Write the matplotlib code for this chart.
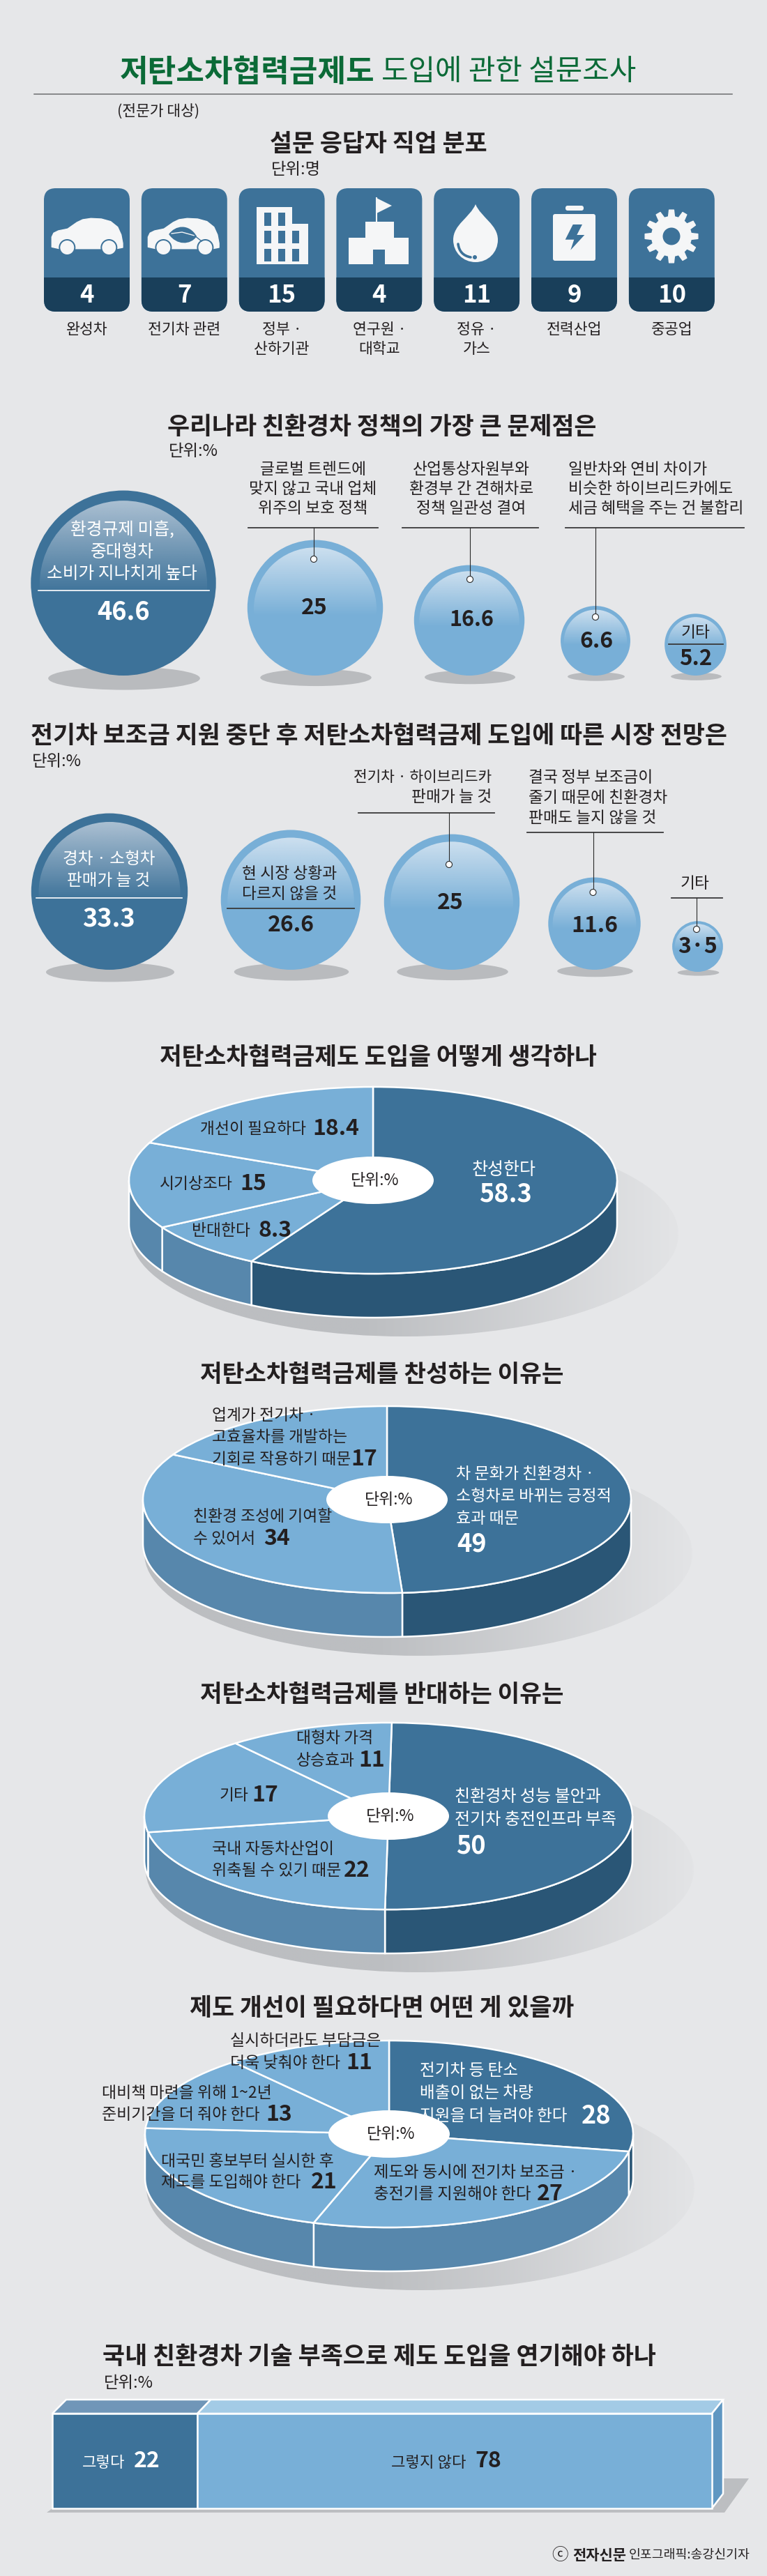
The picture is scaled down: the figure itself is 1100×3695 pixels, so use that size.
import numpy as np
import matplotlib
matplotlib.use('Agg')
import matplotlib.pyplot as plt
from matplotlib.patches import Circle, Ellipse, FancyBboxPatch, PathPatch, Polygon, Rectangle, Wedge
from matplotlib.path import Path
from matplotlib.transforms import Affine2D

plt.rcParams['font.family'] = ['Noto Sans CJK KR', 'DejaVu Sans']

# survey data
main_title = '저탄소차협력금제도'
main_subtitle = '도입에 관한 설문조사'
target_note = '(전문가 대상)'
section_titles = [
    '설문 응답자 직업 분포',
    '우리나라 친환경차 정책의 가장 큰 문제점은',
    '전기차 보조금 지원 중단 후 저탄소차협력금제 도입에 따른 시장 전망은',
    '저탄소차협력금제도 도입을 어떻게 생각하나',
    '저탄소차협력금제를 찬성하는 이유는',
    '저탄소차협력금제를 반대하는 이유는',
    '제도 개선이 필요하다면 어떤 게 있을까',
    '국내 친환경차 기술 부족으로 제도 도입을 연기해야 하나',
]

job_labels = ['완성차', '전기차 관련', '정부 ·\n산하기관', '연구원 ·\n대학교', '정유 ·\n가스', '전력산업', '중공업']
job_counts = [4, 7, 15, 4, 11, 9, 10]

problem_labels = ['환경규제 미흡,\n중대형차\n소비가 지나치게 높다',
                  '글로벌 트렌드에\n맞지 않고 국내 업체\n위주의 보호 정책',
                  '산업통상자원부와\n환경부 간 견해차로\n정책 일관성 결여',
                  '일반차와 연비 차이가\n비슷한 하이브리드카에도\n세금 혜택을 주는 건 불합리',
                  '기타']
problem_values = [46.6, 25, 16.6, 6.6, 5.2]

outlook_labels = ['경차 · 소형차\n판매가 늘 것',
                  '현 시장 상황과\n다르지 않을 것',
                  '전기차 · 하이브리드카\n판매가 늘 것',
                  '결국 정부 보조금이\n줄기 때문에 친환경차\n판매도 늘지 않을 것',
                  '기타']
outlook_values = [33.3, 26.6, 25, 11.6, 3.5]
outlook_shown = ['33.3', '26.6', '25', '11.6', '3·5']

opinion_labels = ['찬성한다', '반대한다', '시기상조다', '개선이 필요하다']
opinion_values = [58.3, 8.3, 15, 18.4]

favor_labels = ['차 문화가 친환경차 ·\n소형차로 바뀌는 긍정적\n효과 때문', '친환경 조성에 기여할\n수 있어서',
                '업계가 전기차 ·\n고효율차를 개발하는\n기회로 작용하기 때문']
favor_values = [49, 34, 17]

oppose_labels = ['친환경차 성능 불안과\n전기차 충전인프라 부족', '국내 자동차산업이\n위축될 수 있기 때문', '기타',
                 '대형차 가격\n상승효과']
oppose_values = [50, 22, 17, 11]

improve_labels = ['전기차 등 탄소\n배출이 없는 차량\n지원을 더 늘려야 한다',
                  '제도와 동시에 전기차 보조금 ·\n충전기를 지원해야 한다',
                  '대국민 홍보부터 실시한 후\n제도를 도입해야 한다',
                  '대비책 마련을 위해 1~2년\n준비기간을 더 줘야 한다',
                  '실시하더라도 부담금은\n더욱 낮춰야 한다']
improve_values = [28, 27, 21, 13, 11]

delay_labels = ['그렇다', '그렇지 않다']
delay_values = [22, 78]

credit_brand = '전자신문'
credit_rest = '인포그래픽:송강신기자'

BG = '#e6e7e9'
INK = '#231f20'
DARK = '#3d7299'
NAVY = '#193f5a'
LIGHT = '#78afd7'
DARK_SIDE = '#2a5676'
LIGHT_SIDE = '#5787ac'
ICON = '#f5f6f7'
GREEN = '#0b6a37'

fig = plt.figure(figsize=(11, 36.95), dpi=100, facecolor=BG)
ax = fig.add_axes([0, 0, 1, 1])
ax.set_axis_off()
renderer = fig.canvas.get_renderer()


def fit(s, x0, x1, y, color=INK, weight='bold'):
    t = ax.text(x0, y, s, color=color, weight=weight, fontsize=20, ha='left', va='center', zorder=10)
    w = t.get_window_extent(renderer).width
    t.set_fontsize(20 * (x1 - x0) / w)
    return t


def lines(s, x, y, pitch, size=16.4, color=INK, ha='center', weight='normal'):
    for i, part in enumerate(s.split('\n')):
        ax.text(x, y + i * pitch, part, fontsize=size, color=color, ha=ha, va='center', weight=weight, zorder=10)


def num(s, x, y, size=23, color=INK, ha='center'):
    ax.text(x, y, s, fontsize=size, color=color, ha=ha, va='center', weight='bold', zorder=10)


def gradient(x0, x1, y0, y1, rgba, clip, zorder):
    im = ax.imshow(rgba, extent=(x0, x1, y1, y0), aspect='auto', interpolation='bilinear', zorder=zorder)
    im.set_clip_path(clip)


def ball(cx, base, value, dark):
    r = np.sqrt(378 * value)
    cy = base - r
    ax.add_patch(Ellipse((cx + 1, base + 0.03 * r), 1.64 * r, 0.25 * r, color='#b9bbbe', lw=0, zorder=2))
    ax.add_patch(Circle((cx, cy), r, color=DARK if dark else LIGHT, lw=0, zorder=3))
    clip = Circle((cx, cy + 0.015 * r), 0.905 * r, transform=ax.transData)
    rgba = np.zeros((200, 1, 4))
    rgba[..., :3] = matplotlib.colors.to_rgb('#b8c9d9' if dark else '#d6e5f2')
    rgba[:, 0, 3] = np.clip(1 - np.linspace(0, 1, 200) / 0.56, 0, 1)
    gradient(cx - r, cx + r, cy - r, cy + r, rgba, clip, 4)
    return r


def leader(x0, x1, y, vx=None, dot_y=None):
    ax.plot([x0, x1], [y, y], color='#3a3a3a', lw=1.3, zorder=7)
    if vx is not None:
        ax.plot([vx, vx], [y, dot_y], color='#2a2a2a', lw=0.8, zorder=7)
        ax.add_patch(Circle((vx, dot_y), 4.5, fc='white', ec='#2a2a2a', lw=0.8, zorder=8))


def pie3d(cx, cy, values, colors, sides, start=0, rx=350, ry=134, depth=63):
    # soft shadow behind the disc
    clip = Ellipse((cx + 45, cy + 77), 786, 294, transform=ax.transData)
    rgba = np.zeros((1, 200, 4))
    dark_c = np.array(matplotlib.colors.to_rgb('#bcbec1'))
    pale_c = np.array(matplotlib.colors.to_rgb('#e3e4e6'))
    mix = np.clip((np.linspace(0, 1, 200) - 0.42) / 0.58, 0, 1)[:, None]
    rgba[0, :, :3] = dark_c * (1 - mix) + pale_c * mix
    rgba[..., 3] = 1
    gradient(cx - 348, cx + 438, cy - 70, cy + 224, rgba, clip, 2)

    edges = start + np.cumsum([0] + list(values)) * 3.6
    for a0, a1, side in zip(edges[:-1], edges[1:], sides):
        lo, hi = max(a0, 90), min(a1, 270)
        if hi <= lo:
            continue
        t = np.radians(np.linspace(lo, hi, 80))
        xs = cx + rx * np.sin(t)
        ys = cy - ry * np.cos(t)
        pts = np.r_[np.c_[xs, ys], np.c_[xs[::-1], ys[::-1] + depth]]
        ax.add_patch(Polygon(pts, fc=side, ec='white', lw=1.8, zorder=3))
    to_disc = Affine2D().scale(rx, ry).translate(cx, cy) + ax.transData
    for a0, a1, col in zip(edges[:-1], edges[1:], colors):
        ax.add_patch(Wedge((0, 0), 1, a0 - 90, a1 - 90, fc=col, ec='white', lw=1.8, transform=to_disc, zorder=4))
    ax.add_patch(Ellipse((cx, cy), 174, 68, color='white', lw=0, zorder=5))
    ax.text(cx + 3, cy, '단위:%', fontsize=16.5, color=INK, ha='center', va='center', zorder=10)


def car(x0, y0, leaf=False):
    pts = np.array([(11.3, 84.3), (11.3, 70), (14, 64.3), (20.7, 61), (34, 58.3), (47.3, 49), (55.7, 45), (67.3, 43.3),
                    (82.3, 44), (95.7, 47.7), (105.7, 55.7), (110.7, 66.7), (113, 79), (113, 85), (104, 86.7), (22.3, 86.7)])
    ax.add_patch(Polygon(pts + (x0, y0), fc=ICON, ec=ICON, lw=1, joinstyle='round', zorder=5))
    for wx in (33.3, 93.3):
        ax.add_patch(Circle((x0 + wx, y0 + 85), 12, color=DARK, lw=0, zorder=5))
        ax.add_patch(Circle((x0 + wx, y0 + 85), 10, color=ICON, lw=0, zorder=6))
    if leaf:
        verts = [(x0 + 41, y0 + 66), (x0 + 50, y0 + 53), (x0 + 70, y0 + 50), (x0 + 81, y0 + 69),
                 (x0 + 72, y0 + 82), (x0 + 52, y0 + 82), (x0 + 41, y0 + 66)]
        codes = [Path.MOVETO, Path.CURVE4, Path.CURVE4, Path.CURVE4, Path.CURVE4, Path.CURVE4, Path.CURVE4]
        ax.add_patch(PathPatch(Path(verts, codes), fc=DARK, ec='none', zorder=6))
        ax.plot([x0 + 45, x0 + 60, x0 + 78], [y0 + 65, y0 + 63, y0 + 68], color=ICON, lw=1, zorder=7)
        ax.plot([x0 + 78, x0 + 88], [y0 + 68, y0 + 76], color=DARK, lw=1, zorder=7)


def building(x0, y0):
    pts = [(25, 27.5), (76, 27.5), (76, 51), (99, 51), (99, 109), (25, 109)]
    ax.add_patch(Polygon(np.array(pts) + (x0, y0), color=ICON, lw=0, zorder=5))
    for col, wx in enumerate((36.5, 56.5, 76.5)):
        for row, wy in enumerate((35.5, 61, 87)):
            if col == 2 and row == 0:
                continue
            ax.add_patch(Rectangle((x0 + wx, y0 + wy), 10.3, 18.3, color=DARK, lw=0, zorder=6))


def school():
    ax.plot([540, 540], [284, 320], color=ICON, lw=1.5, zorder=5)
    ax.add_patch(Polygon([(540, 284), (562, 295), (540, 306)], color=ICON, lw=0, zorder=5))
    pts = [(524, 318), (565, 318), (565, 341), (586, 341), (586, 379), (552, 379), (552, 358), (535, 358), (535, 379),
           (500, 379), (500, 341), (524, 341)]
    ax.add_patch(Polygon(pts, color=ICON, lw=0, zorder=5))


def drop():
    verts = [(682, 293), (690, 312), (714, 322), (714, 344), (714, 362), (700, 376), (682, 376), (664, 376), (650, 362),
             (650, 344), (650, 322), (674, 312), (682, 293)]
    codes = [Path.MOVETO] + [Path.CURVE4] * 12
    ax.add_patch(PathPatch(Path(verts, codes), fc=ICON, ec='none', zorder=5))
    arc = Path([(657, 350), (659, 366), (675, 369)], [Path.MOVETO, Path.CURVE3, Path.CURVE3])
    ax.add_patch(PathPatch(arc, fc='none', ec=DARK, lw=2.6, capstyle='round', zorder=6))
    ax.add_patch(Circle((681, 369), 3, color=DARK, lw=0, zorder=6))


def battery():
    ax.add_patch(FancyBboxPatch((793, 307), 61, 67, boxstyle='round,pad=0,rounding_size=3', color=ICON, lw=0, zorder=5))
    ax.add_patch(FancyBboxPatch((811, 295), 26, 7, boxstyle='round,pad=0,rounding_size=3', color=ICON, lw=0, zorder=5))
    bolt = [(821.7, 322), (835, 322), (827.3, 337), (838.3, 337), (818.3, 358.7), (823.3, 343.7), (810.7, 343.7)]
    ax.add_patch(Polygon(bolt, color=DARK, lw=0, zorder=6))


def gear(cx, cy, teeth=12):
    pts = []
    for i in range(teeth):
        a = 2 * np.pi * i / teeth
        step = 2 * np.pi / teeth
        pts += [(28.5, a - 0.30 * step), (38, a - 0.17 * step), (38, a + 0.17 * step), (28.5, a + 0.30 * step)]
    xy = [(cx + r * np.sin(a), cy - r * np.cos(a)) for r, a in pts]
    ax.add_patch(Polygon(xy, fc=ICON, ec=ICON, lw=1, joinstyle='round', zorder=5))
    ax.add_patch(Circle((cx, cy), 12.5, color=DARK, lw=0, zorder=6))


# header
fit(main_title, 172, 537, 104, color=GREEN)
fit(main_subtitle, 547, 912, 104, color=GREEN, weight='normal')
ax.plot([49, 1050], [135.5, 135.5], color='#6d6e70', lw=1.1)
ax.text(168, 160, target_note, fontsize=15.5, color=INK, va='center')

# job tiles
fit(section_titles[0], 387, 698, 206)
ax.text(389, 243, '단위:명', fontsize=16.8, color=INK, va='center')
tile_x = 63 + 139.8 * np.arange(len(job_counts))
for x, count, label in zip(tile_x, job_counts, job_labels):
    tile = FancyBboxPatch((x, 270), 123, 177, boxstyle='round,pad=0,rounding_size=17', fc=DARK, ec='none', zorder=3)
    ax.add_patch(tile)
    foot = Rectangle((x, 398.5), 123, 50, fc=NAVY, ec='none', zorder=4)
    ax.add_patch(foot)
    foot.set_clip_path(tile)
    ax.text(x + 61.5, 423, str(count), fontsize=25, color='white', ha='center', va='center', weight='bold', zorder=10)
    lines(label, x + 61.5, 473, 28, size=15.6)
car(tile_x[0], 270)
car(tile_x[1] - 1.7, 270, leaf=True)
building(tile_x[2], 270)
school()
drop()
battery()
gear(963, 339)

# problem bubbles
fit(section_titles[1], 240, 855, 613)
ax.text(242, 648, '단위:%', fontsize=16.8, color=INK, va='center')
base = 969
for x, v in zip((177, 452, 673, 854, 997.5), problem_values):
    ball(x, base, v, v == problem_values[0])
lines(problem_labels[0], 175, 760, 31.5, size=17.8, color='white')
ax.plot([55, 300], [847, 847], color='white', lw=1.2, zorder=7)
num(str(problem_values[0]), 177, 878, size=26, color='white')

lines(problem_labels[1], 449, 673, 28.5)
leader(356, 542, 757, 450, 802)
num(str(problem_values[1]), 451, 872)
lines(problem_labels[2], 676, 673, 28.5)
leader(577, 772, 757, 674, 831)
num(str(problem_values[2]), 676, 889, size=22)
lines(problem_labels[3], 815, 673, 28.5, ha='left')
leader(811, 1067, 757, 854, 885)
num(str(problem_values[3]), 855, 920)
lines(problem_labels[4], 998, 907, 0)
leader(959, 1037, 924)
num(str(problem_values[4]), 998, 945, size=22.5)

# market outlook bubbles
fit(section_titles[2], 44, 1042, 1055)
ax.text(46, 1092, '단위:%', fontsize=16.8, color=INK, va='center')
base = 1391
for x, v, extra in zip((157, 417, 648, 852.5, 1000.5), outlook_values, (0, 0, 0, 0, 3)):
    ball(x, base + extra, v, v == outlook_values[0])
lines(outlook_labels[0], 156, 1232, 31, size=17, color='white')
ax.plot([52, 261], [1288, 1288], color='white', lw=1.2, zorder=7)
num(outlook_shown[0], 156, 1318, size=26, color='white')

lines(outlook_labels[1], 415, 1253, 29)
leader(326, 508, 1303)
num(outlook_shown[1], 417, 1327)
lines(outlook_labels[2].split('\n')[0], 705, 1115, 0, size=15.4, ha='right')
lines(outlook_labels[2].split('\n')[1], 705, 1143, 0, ha='right')
leader(514, 709, 1166, 644, 1240)
num(outlook_shown[2], 646, 1295)
lines(outlook_labels[3], 758, 1115, 29, ha='left')
leader(756, 951, 1194, 850.5, 1280)
num(outlook_shown[3], 853, 1328)
lines(outlook_labels[4], 997, 1267, 0)
leader(963, 1036, 1288, 999, 1333)
num(outlook_shown[4], 1001, 1358)

# opinion pie
fit(section_titles[3], 229, 855, 1516)
pie3d(535, 1693, opinion_values, [DARK, LIGHT, LIGHT, LIGHT], [DARK_SIDE, LIGHT_SIDE, LIGHT_SIDE, LIGHT_SIDE])
lines(opinion_labels[0], 723, 1678, 0, size=18, color='white')
num(str(opinion_values[0]), 725, 1713, size=26, color='white')
lines(opinion_labels[3], 287, 1619, 0, ha='left')
num(str(opinion_values[3]), 448, 1619, ha='left')
lines(opinion_labels[2], 229, 1698, 0, ha='left')
num(str(opinion_values[2]), 344, 1698, ha='left')
lines(opinion_labels[1], 275, 1765, 0, ha='left')
num(str(opinion_values[1]), 371, 1765, ha='left')

# reasons for
fit(section_titles[4], 287, 807, 1971)
pie3d(555, 2151, favor_values, [DARK, LIGHT, LIGHT], [DARK_SIDE, LIGHT_SIDE, LIGHT_SIDE])
lines(favor_labels[0], 654, 2114, 32, color='white', ha='left', size=16.6)
num(str(favor_values[0]), 655, 2215, size=26, color='white', ha='left')
lines(favor_labels[1], 277, 2175, 32, ha='left')
num(str(favor_values[1]), 378, 2207, ha='left')
lines(favor_labels[2], 304, 2030, 31.5, ha='left')
num(str(favor_values[2]), 503, 2093, ha='left')

# reasons against
fit(section_titles[5], 287, 807, 2430)
pie3d(557, 2605, oppose_values, [DARK, LIGHT, LIGHT, LIGHT], [DARK_SIDE, LIGHT_SIDE, LIGHT_SIDE, LIGHT_SIDE], start=0.8)
lines(oppose_labels[0], 652, 2577, 33, color='white', ha='left', size=17.3)
num(str(oppose_values[0]), 654, 2648, size=26, color='white', ha='left')
lines(oppose_labels[1], 304, 2652, 31, ha='left', size=16.6)
num(str(oppose_values[1]), 493, 2683, ha='left')
lines(oppose_labels[2], 315, 2575, 0, ha='left')
num(str(oppose_values[2]), 361, 2575, ha='left')
lines(oppose_labels[3], 425, 2493, 32, ha='left')
num(str(oppose_values[3]), 514, 2525, ha='left')

# improvements
fit(section_titles[6], 272, 822, 2880)
pie3d(558, 3061, improve_values, [DARK, LIGHT, LIGHT, LIGHT, LIGHT],
      [DARK_SIDE, LIGHT_SIDE, LIGHT_SIDE, LIGHT_SIDE, LIGHT_SIDE])
lines(improve_labels[0], 602, 2970, 32.5, color='white', ha='left', size=17)
num(str(improve_values[0]), 834, 3035, size=26, color='white', ha='left')
lines(improve_labels[1], 536, 3116, 31, ha='left', size=16.8)
num(str(improve_values[1]), 770, 3147, ha='left')
lines(improve_labels[2], 231, 3100, 30, ha='left', size=16.5)
num(str(improve_values[2]), 446, 3130, ha='left')
lines(improve_labels[3], 146, 3002, 31, ha='left', size=16.5)
num(str(improve_values[3]), 381, 3033, ha='left')
lines(improve_labels[4], 330, 2927, 32, ha='left', size=16.5)
num(str(improve_values[4]), 496, 2959, ha='left')

# delay bar
fit(section_titles[7], 147, 938, 3380)
ax.text(149, 3418, '단위:%', fontsize=16.8, color=INK, va='center')
ax.add_patch(Polygon([(1021, 3555), (1039, 3555), (1074, 3555), (1039, 3604), (67, 3604), (75, 3598)], color='#bcbec1', lw=0, zorder=2))
fx = np.cumsum([0] + delay_values) / 100
front_x = 75 + 946 * fx
back_x = 95 + 942 * fx
for i, (col, top) in enumerate(zip([DARK, LIGHT], ['#7096b8', '#a3cbe6'])):
    ax.add_patch(Rectangle((front_x[i], 3462), front_x[i + 1] - front_x[i], 136, fc=col, ec='white', lw=1.8, zorder=4))
    ax.add_patch(Polygon([(front_x[i], 3462), (back_x[i], 3442), (back_x[i + 1], 3442), (front_x[i + 1], 3462)],
                         fc=top, ec='white', lw=1.8, zorder=3))
ax.add_patch(Polygon([(1021, 3462), (1037, 3442), (1037, 3577), (1021, 3598)], fc='#5f97c2', ec='white', lw=1.8, zorder=3))
ax.text(118, 3532, delay_labels[0], fontsize=16, color='white', va='center', zorder=10)
num(str(delay_values[0]), 192, 3530, size=23, color='white', ha='left')
ax.text(561, 3532, delay_labels[1], fontsize=16, color=INK, va='center', zorder=10)
num(str(delay_values[1]), 681, 3530, ha='left')

# credit
ax.text(803, 3665, 'ⓒ', fontsize=17, color=INK, ha='center', va='center', zorder=10)
fit(credit_brand, 821, 898, 3665)
fit(credit_rest, 902, 1075, 3665, weight='normal')

ax.set_xlim(0, 1100)
ax.set_ylim(3695, 0)
fig.savefig('out.png', dpi=100, facecolor=BG)
